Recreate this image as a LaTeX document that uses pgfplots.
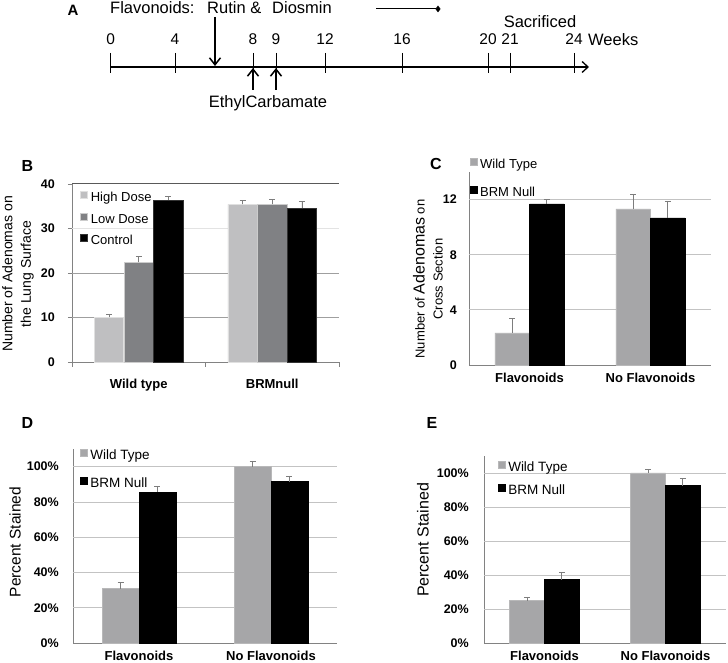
\documentclass[border=0pt]{standalone}
\usepackage{fontspec}
\setmainfont{Liberation Sans}
\usepackage{pgfplots}
\pgfplotsset{compat=1.18}
\usetikzlibrary{arrows.meta}

\definecolor{hiD}{RGB}{191,191,193}
\definecolor{loD}{RGB}{128,129,132}
\definecolor{wtG}{RGB}{166,166,168}
\definecolor{errG}{RGB}{125,125,125}
\definecolor{gridG}{RGB}{195,195,195}
\definecolor{axG}{RGB}{130,130,130}
\newcommand{\fs}[1]{\fontsize{#1}{#1}\selectfont}

\pgfplotsset{
  barpanel/.style={
    scale only axis, clip=false, anchor=south west,
    xmin=-0.5, xmax=1.5,
    axis lines*=left, axis line style={-, draw=axG, line width=0.8pt},
    xtick={0,1}, xtick style={draw=none}, ytick style={draw=none},
    xticklabel style={font=\fs{13}\bfseries, inner sep=0pt, anchor=north},
    yticklabel style={font=\fs{12.5}\bfseries, inner sep=0pt, anchor=east},
    /pgf/number format/assume math mode=true,
    legend image code/.code={\fill[##1] (0pt,0pt) rectangle (7pt,7pt);},
    legend cell align=left,
    legend style={draw=none, fill=none, inner sep=0pt, font=\fs{13},
      nodes={inner sep=0pt, text height=9.5pt, text depth=3pt}, column sep=3pt},
  },
  errs/.style={error bars/.cd, y dir=plus, y explicit,
    error bar style={errG, line width=0.7pt},
    error mark options={rotate=90, errG, mark size=3pt, line width=0.7pt}},
}

\begin{document}
\begin{tikzpicture}[x=1pt,y=1pt]
\path[use as bounding box] (0pt,0pt) rectangle (728pt,663pt);

% ---------------- Panel A: timeline ----------------
\begin{axis}[at={(0pt,543pt)}, anchor=south west, scale only axis,
  width=728pt, height=120pt, xmin=0, xmax=728, ymin=0, ymax=120,
  y dir=reverse, hide axis, clip=false]
\addplot[black, line width=1.8pt, -{Straight Barb[length=6pt,width=11pt,line width=1.3pt]}]
  coordinates {(110,67) (589,67)};
\addplot[black, line width=1pt, unbounded coords=jump] table[row sep=\\] {
x y\\ 110.7 53\\ 110.7 73\\ 110.7 nan\\
175 53\\ 175 73\\ 175 nan\\
253 53\\ 253 73\\ 253 nan\\
276 53\\ 276 73\\ 276 nan\\
325 53\\ 325 73\\ 325 nan\\
402 53\\ 402 73\\ 402 nan\\
488 53\\ 488 73\\ 488 nan\\
510 53\\ 510 73\\ 510 nan\\
574 53\\ 574 73\\
};
\addplot[black, line width=1.5pt, -{Straight Barb[length=7pt,width=11pt]}] coordinates {(215,17) (215,66)};
\addplot[black, line width=1.5pt, -{Straight Barb[length=7pt,width=11pt]}] coordinates {(253,90) (253,68)};
\addplot[black, line width=1.5pt, -{Straight Barb[length=7pt,width=11pt]}] coordinates {(276,90) (276,68)};
\addplot[black, line width=1pt] coordinates {(376,9) (436,9)};
\addplot[black, only marks, mark=diamond*, mark size=3pt] coordinates {(438,9)};
\node[inner sep=0pt, anchor=base, font=\fs{15.5}] at (axis cs:110.7,45) {0};
\node[inner sep=0pt, anchor=base, font=\fs{15.5}] at (axis cs:175,45) {4};
\node[inner sep=0pt, anchor=base, font=\fs{15.5}] at (axis cs:253,45) {8};
\node[inner sep=0pt, anchor=base, font=\fs{15.5}] at (axis cs:276,45) {9};
\node[inner sep=0pt, anchor=base, font=\fs{15.5}] at (axis cs:325,45) {12};
\node[inner sep=0pt, anchor=base, font=\fs{15.5}] at (axis cs:402,45) {16};
\node[inner sep=0pt, anchor=base, font=\fs{15.5}] at (axis cs:488,45) {20};
\node[inner sep=0pt, anchor=base, font=\fs{15.5}] at (axis cs:510,45) {21};
\node[inner sep=0pt, anchor=base, font=\fs{15.5}] at (axis cs:574,45) {24};
\node[inner sep=0pt, anchor=base west, font=\fs{16.5}] at (axis cs:588,46) {Weeks};
\node[inner sep=0pt, anchor=base west, font=\fs{16.5}] at (axis cs:110,13.5) {Flavonoids:};
\node[inner sep=0pt, anchor=base west, font=\fs{16.5}] at (axis cs:207,13.5) {Rutin \&};
\node[inner sep=0pt, anchor=base west, font=\fs{16.5}] at (axis cs:272,13.5) {Diosmin};
\node[inner sep=0pt, anchor=base, font=\fs{16.5}] at (axis cs:540,28) {Sacrificed};
\node[inner sep=0pt, anchor=base, font=\fs{16.5}] at (axis cs:268,108) {EthylCarbamate};
\node[inner sep=0pt, font=\fs{15}\bfseries] at (axis cs:73,10) {A};
\end{axis}

% ---------------- Panel B ----------------
\begin{axis}[barpanel, at={(72pt,301pt)}, width=267pt, height=178pt,
  ymin=0, ymax=40, ytick={0,10,20,30,40},
  ytick style={draw=axG, line width=0.8pt}, major tick length=4pt, tick align=outside,
  xticklabels={Wild type, BRMnull},
  xticklabel style={yshift=-13pt}, yticklabel style={xshift=-13pt},
  extra x ticks={-0.5,0.5,1.5}, extra x tick labels={},
  extra x tick style={xtick style={draw=axG, line width=0.8pt}, major tick length=5pt, tick align=outside},
  legend style={at={(0.030,0.961)}, anchor=north west, row sep=8pt}]
\draw[gray!75, line width=0.8pt] (axis cs:-0.5,10) -- (axis cs:1.5,10);
\draw[gray!75, line width=0.8pt] (axis cs:-0.5,20) -- (axis cs:1.5,20);
\draw[gray!22, line width=1.6pt] (axis cs:-0.5,30) -- (axis cs:1.5,30);
\draw[black!65, line width=1pt] (axis cs:-0.5,40) -- (axis cs:1.5,40);
\addplot[ybar, bar width=0.22, bar shift=0, fill=hiD, draw=white!88!black, line width=0.6pt, errs]
  coordinates {(-0.222,10) +- (0,0.8) (0.778,35.4) +- (0,1.0)};
\addlegendentry{High Dose}
\addplot[ybar, bar width=0.22, bar shift=0, fill=loD, draw=white!80!black, line width=0.6pt, errs]
  coordinates {(0,22.4) +- (0,1.3) (1,35.4) +- (0,1.2)};
\addlegendentry{Low Dose}
\addplot[ybar, bar width=0.22, bar shift=0, fill=black, draw=black!80, line width=0.6pt, errs]
  coordinates {(0.222,36.4) +- (0,0.8) (1.222,34.5) +- (0,1.5)};
\addlegendentry{Control}
\end{axis}

% ---------------- Panel C ----------------
\begin{axis}[barpanel, at={(469pt,298pt)}, width=242pt, height=193pt,
  ymin=0, ymax=14, ytick={0,4,8,12},
  xticklabels={Flavonoids, No Flavonoids},
  xticklabel style={yshift=-8pt}, yticklabel style={xshift=-12pt},
  legend style={at={(0.002,1.072)}, anchor=north west, row sep=14.5pt}]
\draw[gridG, line width=0.8pt] (axis cs:-0.5,4) -- (axis cs:1.5,4);
\draw[gridG, line width=0.8pt] (axis cs:-0.5,8) -- (axis cs:1.5,8);
\draw[gridG, line width=0.8pt] (axis cs:-0.5,12) -- (axis cs:1.5,12);
\addplot[ybar, bar width=0.285, bar shift=0, fill=wtG, draw=wtG!80!white, line width=0.5pt, errs]
  coordinates {(-0.143,2.33) +- (0,1.02) (0.857,11.32) +- (0,1.07)};
\addlegendentry{Wild Type}
\addplot[ybar, bar width=0.285, bar shift=0, fill=black, draw=black, line width=0.5pt, errs]
  coordinates {(0.143,11.68) +- (0,0.32) (1.143,10.67) +- (0,1.23)};
\addlegendentry{BRM Null}
\end{axis}

% ---------------- Panel D ----------------
\begin{axis}[barpanel, at={(73pt,20pt)}, width=264pt, height=194pt,
  ymin=0, ymax=110, ytick={0,20,40,60,80,100},
  yticklabels={0\%,20\%,40\%,60\%,80\%,100\%},
  xticklabels={Flavonoids, No Flavonoids},
  xticklabel style={yshift=-7.5pt}, yticklabel style={xshift=-14pt},
  legend style={at={(0.025,1.0)}, anchor=north west, row sep=14.5pt, font=\fs{13.5}}]
\draw[gridG, line width=0.8pt] (axis cs:-0.5,20) -- (axis cs:1.5,20);
\draw[gridG, line width=0.8pt] (axis cs:-0.5,40) -- (axis cs:1.5,40);
\draw[gridG, line width=0.8pt] (axis cs:-0.5,60) -- (axis cs:1.5,60);
\draw[gridG, line width=0.8pt] (axis cs:-0.5,80) -- (axis cs:1.5,80);
\draw[gridG, line width=0.8pt] (axis cs:-0.5,100) -- (axis cs:1.5,100);
\addplot[ybar, bar width=0.28, bar shift=0, fill=wtG, draw=wtG!80!white, line width=0.5pt, errs]
  coordinates {(-0.14,30.8) +- (0,3.4) (0.86,100) +- (0,3.2)};
\addlegendentry{Wild Type}
\addplot[ybar, bar width=0.28, bar shift=0, fill=black, draw=black, line width=0.5pt, errs]
  coordinates {(0.14,85.5) +- (0,3.2) (1.14,91.5) +- (0,3.2)};
\addlegendentry{BRM Null}
\end{axis}

% ---------------- Panel E ----------------
\begin{axis}[barpanel, at={(484pt,20pt)}, width=242pt, height=187pt,
  ymin=0, ymax=110, ytick={0,20,40,60,80,100},
  yticklabels={0\%,20\%,40\%,60\%,80\%,100\%},
  xticklabels={Flavonoids, No Flavonoids},
  xticklabel style={yshift=-7.5pt}, yticklabel style={xshift=-15pt},
  legend style={at={(0.056,0.973)}, anchor=north west, row sep=9.5pt, font=\fs{13.5}}]
\draw[gridG, line width=0.8pt] (axis cs:-0.5,20) -- (axis cs:1.5,20);
\draw[gridG, line width=0.8pt] (axis cs:-0.5,40) -- (axis cs:1.5,40);
\draw[gridG, line width=0.8pt] (axis cs:-0.5,60) -- (axis cs:1.5,60);
\draw[gridG, line width=0.8pt] (axis cs:-0.5,80) -- (axis cs:1.5,80);
\draw[gridG, line width=0.8pt] (axis cs:-0.5,100) -- (axis cs:1.5,100);
\addplot[ybar, bar width=0.289, bar shift=0, fill=wtG, draw=wtG!80!white, line width=0.5pt, errs]
  coordinates {(-0.143,24.9) +- (0,2.1) (0.857,100) +- (0,2.0)};
\addlegendentry{Wild Type}
\addplot[ybar, bar width=0.289, bar shift=0, fill=black, draw=black, line width=0.5pt, errs]
  coordinates {(0.143,37.3) +- (0,4.1) (1.143,92.5) +- (0,4.2)};
\addlegendentry{BRM Null}
\end{axis}

% ---------------- Axis titles and panel letters ----------------
\node[inner sep=0pt, rotate=90, align=center, font=\fontsize{14}{18.5}\selectfont] at (18pt,389pt)
  {Number of Adenomas on\\the Lung Surface};
\node[inner sep=0pt, rotate=90, align=center, font=\fontsize{13}{18}\selectfont] at (428pt,384pt)
  {Number of {\fontsize{16}{18}\selectfont Adenomas} on\\Cross Section};
\node[inner sep=0pt, rotate=90, font=\fs{15.5}] at (15pt,121pt) {Percent Stained};
\node[inner sep=0pt, rotate=90, font=\fs{16}] at (423pt,123pt) {Percent Stained};
\node[inner sep=0pt, font=\fs{16}\bfseries] at (27.5pt,497pt) {B};
\node[inner sep=0pt, font=\fs{16}\bfseries] at (436pt,499pt) {C};
\node[inner sep=0pt, font=\fs{16}\bfseries] at (27.5pt,240pt) {D};
\node[inner sep=0pt, font=\fs{16}\bfseries] at (432pt,240pt) {E};
\end{tikzpicture}
\end{document}
